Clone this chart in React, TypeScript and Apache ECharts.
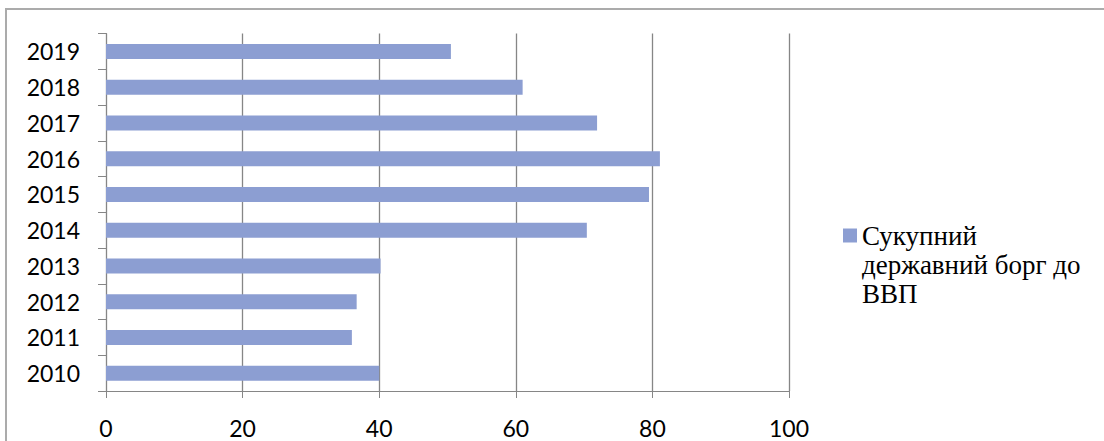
import React, { useEffect, useRef } from "react";
import * as echarts from "echarts";

const years = ["2010", "2011", "2012", "2013", "2014", "2015", "2016", "2017", "2018", "2019"];
const debtToGdp = [40.0, 36.0, 36.7, 40.2, 70.4, 79.5, 81.1, 71.9, 61.0, 50.5];
const seriesName = "Сукупний державний борг до ВВП";
const legendLines = ["Сукупний", "державний борг до", "ВВП"];
const xTicks = { min: 0, max: 100, interval: 20 };

const BAR = "#8C9ED2";
const AXIS = "#868686";

export default function App() {
  const ref = useRef<HTMLDivElement>(null);
  useEffect(() => {
    if (!ref.current) return;
    const chart = echarts.init(ref.current, undefined, { renderer: "svg" });
    chart.setOption({
      animation: false,
      grid: { left: 106, top: 33.5, width: 683, height: 357.5 },
      title: {
        text: legendLines.join("\n"),
        left: 862,
        top: 221.5,
        padding: 0,
        textStyle: {
          fontFamily: "Liberation Serif",
          fontSize: 27,
          fontWeight: "normal",
          lineHeight: 29,
          color: "#000",
        },
      },
      legend: {
        show: true,
        left: 843,
        top: 228.5,
        padding: 0,
        icon: "rect",
        itemWidth: 14,
        itemHeight: 14,
        formatter: () => "",
        selectedMode: false,
        data: [seriesName],
      },
      xAxis: {
        type: "value",
        min: xTicks.min,
        max: xTicks.max,
        interval: xTicks.interval,
        axisLine: { show: true, lineStyle: { color: AXIS } },
        axisTick: { show: true, length: 7, lineStyle: { color: AXIS } },
        splitLine: { show: true, lineStyle: { color: AXIS, width: 1.3 } },
        axisLabel: { margin: 25, color: "#000", fontFamily: "Lato", fontSize: 23 },
      },
      yAxis: {
        type: "category",
        data: years,
        axisLine: { show: true, lineStyle: { color: AXIS } },
        axisTick: { show: true, length: 8, lineStyle: { color: AXIS } },
        axisLabel: { margin: 26, color: "#000", fontFamily: "Lato", fontSize: 23 },
      },
      series: [
        { name: seriesName, type: "bar", data: debtToGdp, barWidth: 15, itemStyle: { color: BAR } },
      ],
    });
    return () => chart.dispose();
  }, []);
  return (
    <div style={{ position: "absolute", left: 0, top: 0, width: 1104, height: 441, overflow: "hidden" }}>
      <div
        style={{
          position: "absolute",
          left: 5,
          top: 8,
          width: 1200,
          height: 500,
          border: "2px solid #ABABAB",
          pointerEvents: "none",
        }}
      />
      <div ref={ref} style={{ position: "absolute", left: 0, top: 0, width: 1104, height: 441 }} />
    </div>
  );
}
